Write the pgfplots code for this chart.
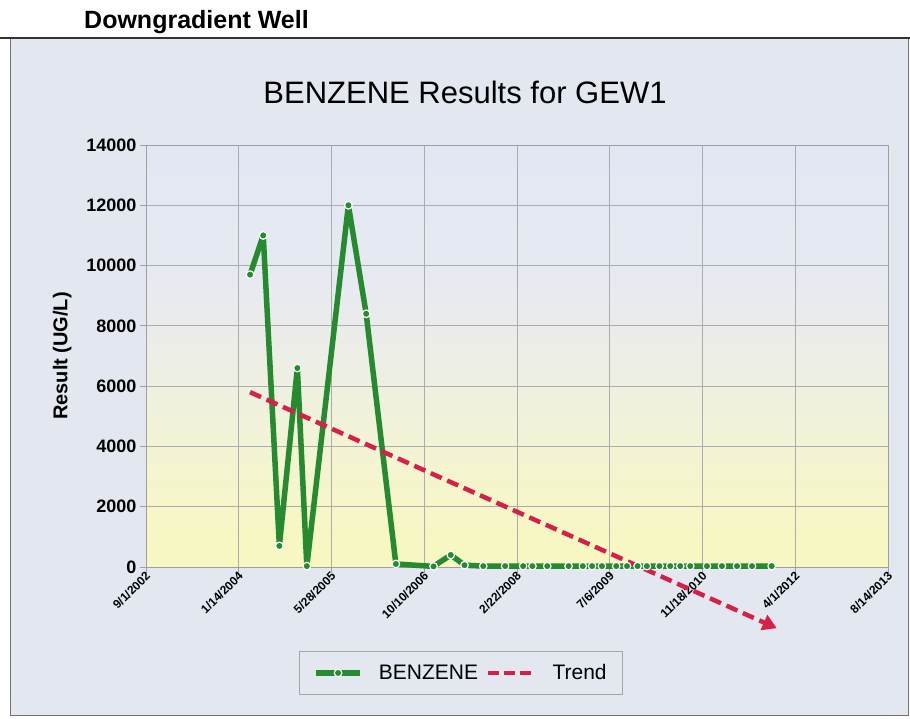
\documentclass[border=0pt]{standalone}
\usepackage{fontspec}
\setmainfont{Liberation Sans}
\usepackage{pgfplots}
\pgfplotsset{compat=1.18}
\usetikzlibrary{arrows.meta}
\definecolor{framebg}{RGB}{226,231,240}
\definecolor{benz}{RGB}{38,138,48}
\definecolor{trendc}{RGB}{214,32,72}
\pgfdeclareverticalshading{plotbg}{100bp}{rgb(0bp)=(0.969,0.969,0.753); rgb(25bp)=(0.969,0.969,0.753); rgb(32bp)=(0.965,0.965,0.784); rgb(39bp)=(0.953,0.957,0.831); rgb(46bp)=(0.937,0.941,0.878); rgb(54bp)=(0.918,0.925,0.925); rgb(62bp)=(0.898,0.914,0.949); rgb(75bp)=(0.886,0.906,0.953); rgb(100bp)=(0.886,0.906,0.953)}
\begin{document}
\begin{tikzpicture}[x=1pt,y=1pt]
\useasboundingbox (0,0) rectangle (910,-719);
\fill[framebg] (10,-38) rectangle (908,-715);
\draw[black!55, line width=0.8pt] (908,-38) -- (908,-715) -- (10,-715) -- (10,-38);
\draw[black!80, line width=1.8pt] (0,-38) -- (910,-38);
\node[anchor=base west, font=\fontsize{25}{30}\selectfont\bfseries, inner sep=0pt] at (84,-29) {Downgradient Well};
\node[font=\fontsize{31}{36}\selectfont, inner sep=0pt] at (465,-92) {BENZENE Results for GEW1};
\begin{axis}[
  scale only axis, width=742pt, height=422pt,
  at={(146pt,-567pt)}, anchor=south west,
  xmin=0, xmax=4000, ymin=0, ymax=14000,
  clip=false,
  axis background/.style={shading=plotbg},
  xtick={0,500,...,4000},
  xticklabels={9/1/2002,1/14/2004,5/28/2005,10/10/2006,2/22/2008,7/6/2009,11/18/2010,4/1/2012,8/14/2013},
  ytick={0,2000,...,14000},
  scaled y ticks=false,
  /pgf/number format/fixed,
  /pgf/number format/set thousands separator={},
  /pgf/number format/assume math mode=true,
  xtick pos=bottom, ytick pos=left,
  tick align=outside, major tick length=6pt,
  tick style={gray!75, line width=0.8pt},
  grid=major, grid style={gray!65, line width=0.8pt},
  axis line style={gray!75, line width=0.8pt},
  yticklabel style={font=\fontsize{18}{20}\selectfont\bfseries},
  xticklabel style={font=\fontsize{12}{14}\selectfont\bfseries, rotate=45, anchor=east, yshift=-2pt, xshift=2pt, inner sep=1pt},
  ylabel={Result (UG/L)},
  ylabel style={font=\fontsize{20}{24}\selectfont\bfseries, at={(axis description cs:-0.113,0.5)}, anchor=center},
  legend columns=2,
  legend style={at={(0.4245,-0.251)}, anchor=center, draw=gray!70, fill=framebg,
    font=\fontsize{21}{24}\selectfont, inner xsep=14pt, inner ysep=11pt,
    /tikz/every odd column/.append style={column sep=14pt},
    /tikz/every even column/.append style={column sep=6pt}},
]
\addplot[benz, line width=5.5pt, line join=round, mark=*, mark size=3.8pt,
  mark options={fill=benz, draw=white, line width=1.2pt},
  legend image code/.code={\draw[benz, line width=5.5pt, mark=*, mark size=3.8pt, mark options={fill=benz, draw=white, line width=1.2pt}, mark repeat=2, mark phase=2] plot coordinates {(0pt,0pt)(22pt,0pt)(44pt,0pt)};}]
coordinates {
(561,9700)(632,11000)(719,700)(816,6600)(867,30)(1091,12000)(1187,8400)
(1347,100)(1550,20)(1643,400)(1717,60)(1818,30)(1936,30)(2033,30)(2083,30)
(2163,30)(2278,30)(2355,30)(2405,30)(2458,30)(2535,30)(2593,30)(2650,30)
(2700,30)(2768,30)(2826,30)(2880,30)(2934,30)(3024,30)(3105,30)(3186,30)
(3267,30)(3373,30)
};
\addlegendentry{BENZENE}
\addplot[trendc, line width=4.5pt, dash pattern=on 12pt off 6pt, -{Triangle[length=14pt,width=16pt]},
  legend image code/.code={\draw[-, trendc, line width=4.5pt, dash pattern=on 11pt off 5pt] (0pt,0pt) -- (46pt,0pt);}]
coordinates {(561,5800)(3400,-2030)};
\addlegendentry{Trend}
\end{axis}
\end{tikzpicture}
\end{document}
